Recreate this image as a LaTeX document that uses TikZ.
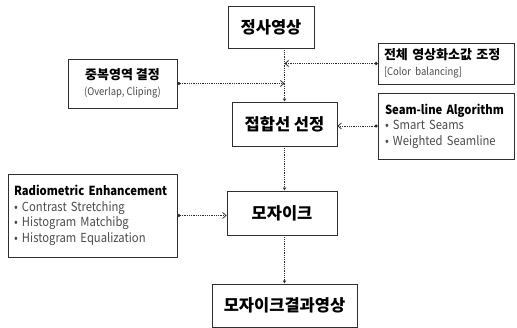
\documentclass[tikz,border=0pt]{standalone}
\usepackage{fontspec}
\setmainfont{Noto Sans CJK KR}
\newfontfamily\narrowfont{Noto Sans CJK KR}[FakeStretch=0.9]
\usepackage{xcolor}
\definecolor{mgray}{HTML}{4A4A4A}
\definecolor{mline}{HTML}{2E2E2E}
\usetikzlibrary{arrows.meta,positioning,calc}
\newcommand\subln[1]{{\narrowfont\mdseries\fontsize{12.5}{15.5}\selectfont\color{mgray}#1}}
\newcommand\subtag[1]{{\narrowfont\mdseries\fontsize{10.5}{13}\selectfont\color{mgray}#1}}

\begin{document}
\begin{tikzpicture}[x=1pt,y=-1pt,
  stage/.style={rectangle,draw=mline,line width=0.7pt,inner sep=0pt,
                font=\fontsize{16.5}{18}\selectfont\bfseries},
  side/.style={rectangle,draw=mline,line width=0.7pt,inner sep=0pt,
               font=\fontsize{13}{15.5}\selectfont\bfseries},
  flow/.style={densely dotted,line width=0.8pt,mline,
               -{Latex[length=3pt,width=3.5pt]}},
  feed/.style={densely dotted,line width=0.8pt,mline,
               {Circle[length=3pt]}-{Straight Barb[length=3.5pt,width=6pt]}}]
\useasboundingbox (0,0) rectangle (517,328);
\node[stage,minimum width=86,minimum height=42] (ortho) at (271,27) {정사영상};
\node[stage,minimum width=105,minimum height=44] (seam) at (284.5,124) {접합선 선정};
\node[stage,minimum width=110,minimum height=44] (mosaic) at (282,213) {모자이크};
\node[stage,minimum width=145,minimum height=43] (result) at (284.5,305.5) {모자이크결과영상};
\node[side,minimum width=136,minimum height=41,text width=124,align=left] (color)
  at (446,63.5) {전체 영상화소값 조정\\\subtag{[Color balancing]}};
\node[side,minimum width=109,minimum height=49,align=center] (overlap)
  at (122.5,83.5) {중복영역 결정\\\subtag{(Overlap, Cliping)}};
\node[side,minimum width=136,minimum height=66,text width=122,align=left,
      font=\narrowfont\fontsize{12.5}{15.5}\selectfont\bfseries] (algo)
  at (446,126) {Seam-line Algorithm\\\subln{• Smart Seams}\\\subln{• Weighted Seamline}};
\node[side,minimum width=169,minimum height=83,text width=157,align=left,
      font=\narrowfont\fontsize{12.5}{15.5}\selectfont\bfseries] (radio)
  at (92.5,215.5) {Radiometric Enhancement\\\subln{• Contrast Stretching}\\
  \subln{• Histogram Matchibg}\\\subln{• Histogram Equalization}};
\draw[flow] (seam.north |- ortho.south) -- (seam.north);
\draw[feed] (color.west) -- (color.west -| seam.north);
\draw[feed] (overlap.east) -- (overlap.east -| seam.north);
\draw[feed] (algo.west) -- (algo.west -| seam.east);
\draw[flow] (seam.south) -- (seam.south |- mosaic.north);
\draw[feed] (radio.east) -- (radio.east -| mosaic.west);
\draw[flow] (seam.south |- mosaic.south) -- (seam.south |- result.north);
\end{tikzpicture}
\end{document}
